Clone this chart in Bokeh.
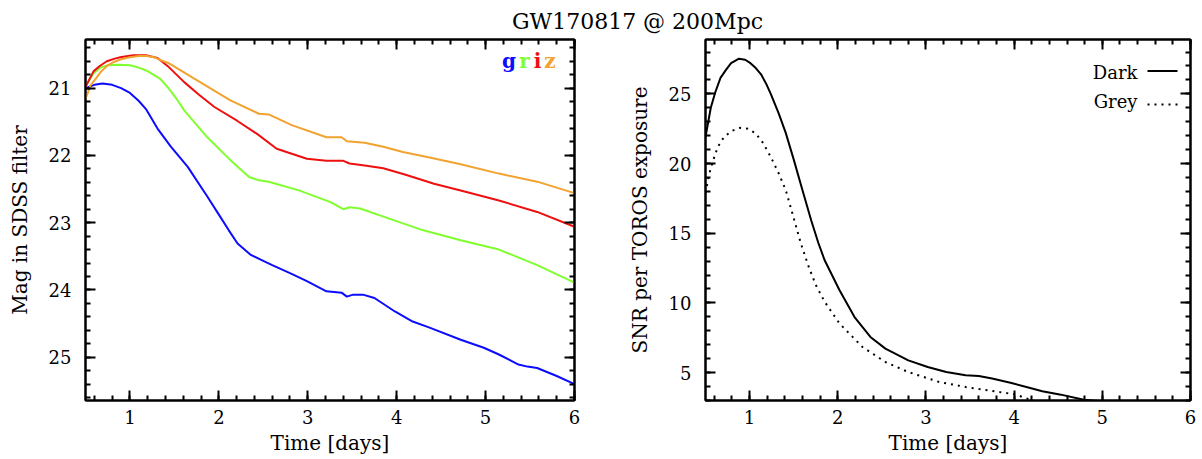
from bokeh.plotting import figure
from bokeh.models import Range1d, LinearAxis, SingleIntervalTicker, Label, Arrow
from bokeh.layouts import column, row
from bokeh.embed import file_html
from bokeh.resources import INLINE

# ---------------- data ----------------
time_g = [0.50, 0.60, 0.69, 0.80, 0.90, 1.00, 1.10, 1.18, 1.31, 1.46, 1.65, 1.87, 2.00, 2.11, 2.21, 2.36,
          2.47, 2.60, 2.80, 2.99, 3.21, 3.38, 3.44, 3.51, 3.62, 3.75, 3.98, 4.18, 4.37, 4.72, 4.98, 5.15,
          5.37, 5.47, 5.58, 5.80, 6.00]
mag_g = [21.00, 20.95, 20.93, 20.95, 21.00, 21.07, 21.19, 21.31, 21.60, 21.87, 22.17, 22.61, 22.88, 23.11,
         23.31, 23.48, 23.55, 23.63, 23.75, 23.87, 24.02, 24.04, 24.10, 24.07, 24.07, 24.12, 24.32, 24.47,
         24.56, 24.74, 24.86, 24.96, 25.11, 25.14, 25.16, 25.28, 25.40]

time_r = [0.50, 0.59, 0.67, 0.76, 0.86, 1.00, 1.09, 1.19, 1.34, 1.44, 1.52, 1.61, 1.87, 2.13, 2.34, 2.45,
          2.56, 2.90, 3.25, 3.40, 3.47, 3.59, 3.85, 4.29, 4.72, 5.15, 5.58, 6.00]
mag_r = [20.98, 20.78, 20.69, 20.66, 20.65, 20.66, 20.69, 20.74, 20.86, 21.01, 21.15, 21.33, 21.73, 22.07,
         22.32, 22.37, 22.39, 22.52, 22.69, 22.80, 22.77, 22.79, 22.91, 23.11, 23.26, 23.40, 23.63, 23.89]

time_i = [0.50, 0.59, 0.66, 0.74, 0.83, 0.89, 0.98, 1.04, 1.18, 1.31, 1.44, 1.61, 1.78, 1.95, 2.20, 2.43,
          2.65, 2.99, 3.21, 3.40, 3.47, 3.64, 3.85, 4.11, 4.42, 4.72, 5.15, 5.58, 6.00]
mag_i = [20.98, 20.75, 20.67, 20.60, 20.56, 20.54, 20.52, 20.51, 20.51, 20.55, 20.69, 20.91, 21.10, 21.28,
         21.48, 21.68, 21.90, 22.05, 22.08, 22.08, 22.12, 22.15, 22.19, 22.29, 22.42, 22.52, 22.67, 22.84,
         23.06]

time_z = [0.50, 0.556, 0.62, 0.67, 0.75, 0.82, 0.90, 1.00, 1.10, 1.19, 1.27, 1.34, 1.44, 1.70, 2.13, 2.45,
          2.56, 2.82, 3.21, 3.38, 3.44, 3.64, 3.85, 4.07, 4.37, 4.72, 5.15, 5.58, 6.00]
mag_z = [21.16, 20.96, 20.85, 20.76, 20.66, 20.61, 20.57, 20.54, 20.52, 20.52, 20.54, 20.58, 20.63, 20.84,
         21.18, 21.38, 21.39, 21.55, 21.73, 21.73, 21.79, 21.81, 21.87, 21.95, 22.03, 22.13, 22.27, 22.39,
         22.56]

time_dark = [0.50, 0.56, 0.61, 0.67, 0.73, 0.79, 0.88, 0.95, 1.01, 1.07, 1.13, 1.19, 1.24, 1.33, 1.41,
             1.50, 1.59, 1.70, 1.78, 1.85, 2.02, 2.19, 2.37, 2.54, 2.80, 3.02, 3.23, 3.45, 3.60, 3.75,
             3.97, 4.15, 4.32, 4.53, 4.79, 4.95]
snr_dark = [21.9, 24.0, 25.1, 26.15, 26.7, 27.2, 27.52, 27.45, 27.2, 26.85, 26.4, 25.7, 25.0, 23.6, 22.2,
            20.3, 18.3, 15.9, 14.3, 13.08, 10.91, 8.99, 7.56, 6.72, 5.88, 5.40, 5.04, 4.81, 4.75, 4.58,
            4.25, 3.95, 3.66, 3.42, 3.06, 2.96]

time_grey = [0.50, 0.54, 0.58, 0.64, 0.71, 0.80, 0.89, 0.98, 1.07, 1.15, 1.24, 1.33, 1.41, 1.50, 1.58,
             1.67, 1.75, 1.85, 2.02, 2.28, 2.54, 2.80, 3.15, 3.45, 3.75, 4.01, 4.23]
snr_grey = [17.9, 19.2, 20.1, 21.2, 21.9, 22.35, 22.56, 22.5, 22.16, 21.5, 20.48, 19.3, 18.09, 16.1, 14.3,
            12.6, 11.3, 10.1, 8.52, 6.84, 5.76, 5.04, 4.33, 3.97, 3.68, 3.44, 2.96]

band_names = ["g", "r", "i", "z"]
band_colors = ["#0c0cff", "#80ff2e", "#ee1010", "#f2a22e"]
snr_names = ["Dark", "Grey"]

title_text = "GW170817 @ 200Mpc"
xlabel = "Time [days]"
ylabel_left = "Mag in SDSS filter"
ylabel_right = "SNR per TOROS exposure"

X_RANGE = (0.5, 6.0)
MAG_RANGE = (25.644, 20.276)   # bottom, top (reversed)
SNR_RANGE = (3.0, 28.9)

FONT = "DejaVu Serif"

# ---------------- layout geometry (page pixels; page content starts at 0,0) ----------------
TITLE_H = 34
FIG_H = 425
FRAME_L1, FRAME_W1 = 85, 489
FRAME_L2, FRAME_W2 = 705, 485
W1 = 618
W2 = 582
BORDER_TOP = 5
FRAME_H = 361
FRAME_TOP = TITLE_H + BORDER_TOP


def style_axis(ax, ticker, labels=True):
    ax.ticker = ticker
    ax.axis_line_color = "black"
    ax.axis_line_width = 2
    ax.major_tick_in = 10
    ax.major_tick_out = 0
    ax.minor_tick_in = 5
    ax.minor_tick_out = 0
    ax.major_tick_line_width = 2
    ax.minor_tick_line_width = 2
    ax.major_tick_line_color = "black"
    ax.minor_tick_line_color = "black"
    ax.axis_label_text_font = FONT
    ax.axis_label_text_font_style = "normal"
    ax.axis_label_text_font_size = "20px"
    ax.axis_label_text_color = "black"
    ax.major_label_text_font = FONT
    if labels:
        ax.major_label_text_font_size = "18px"
        ax.major_label_text_color = "black"
    else:
        ax.major_label_text_font_size = "0px"
        ax.major_label_text_color = None
        ax.major_label_standoff = 0


def make_panel(width, frame_w, border_left, yrange, ytick_interval, ylabel):
    border_right = width - border_left - frame_w
    p = figure(width=width, height=FIG_H, x_range=Range1d(*X_RANGE), y_range=Range1d(*yrange),
               output_backend="svg", toolbar_location=None,
               min_border_left=border_left, min_border_right=border_right,
               min_border_top=BORDER_TOP, min_border_bottom=FIG_H - BORDER_TOP - FRAME_H)
    p.xgrid.grid_line_color = None
    p.ygrid.grid_line_color = None
    p.outline_line_color = "black"
    p.outline_line_width = 2
    p.background_fill_color = "white"
    p.border_fill_color = "white"
    style_axis(p.xaxis[0], SingleIntervalTicker(interval=1, num_minor_ticks=5))
    style_axis(p.yaxis[0], SingleIntervalTicker(interval=ytick_interval, num_minor_ticks=5))
    p.xaxis[0].axis_label = xlabel
    p.yaxis[0].axis_label = ylabel
    p.xaxis[0].major_label_standoff = 9
    p.xaxis[0].axis_label_standoff = 4
    p.yaxis[0].major_label_standoff = 14
    p.yaxis[0].axis_label_standoff = 14
    top = LinearAxis()
    style_axis(top, SingleIntervalTicker(interval=1, num_minor_ticks=5), labels=False)
    right = LinearAxis()
    style_axis(right, SingleIntervalTicker(interval=ytick_interval, num_minor_ticks=5), labels=False)
    p.add_layout(top, "above")
    p.add_layout(right, "right")
    return p


def to_data(px, py, frame_left, frame_w, yrange):
    """page-pixel position inside a panel -> data units (annotation placement only)"""
    x = X_RANGE[0] + (px - frame_left) / frame_w * (X_RANGE[1] - X_RANGE[0])
    y = yrange[0] + (FRAME_TOP + FRAME_H - py) / FRAME_H * (yrange[1] - yrange[0])
    return x, y


# ---------------- title strip ----------------
pt = figure(width=W1 + W2, height=TITLE_H, x_range=Range1d(0, W1 + W2), y_range=Range1d(0, TITLE_H),
            output_backend="svg", toolbar_location=None, min_border=0,
            x_axis_type=None, y_axis_type=None)
pt.xgrid.grid_line_color = None
pt.ygrid.grid_line_color = None
pt.outline_line_color = None
pt.add_layout(Label(x=637, y=TITLE_H - 21, text=title_text, text_align="center",
                    text_baseline="middle", text_font=FONT, text_font_size="22px", text_color="black"))

# ---------------- left panel: light curves ----------------
p1 = make_panel(W1, FRAME_W1, FRAME_L1, MAG_RANGE, 1, ylabel_left)
series = [(time_g, mag_g), (time_r, mag_r), (time_i, mag_i), (time_z, mag_z)]
for (t, m), c in zip(series, band_colors):
    p1.line(t, m, line_color=c, line_width=2)

letter_px = [508.5, 524, 537, 549.5]
for name, c, px in zip(band_names, band_colors, letter_px):
    x, y = to_data(px, 60, FRAME_L1, FRAME_W1, MAG_RANGE)
    p1.add_layout(Label(x=x, y=y, text=name, text_align="center", text_baseline="middle",
                        text_font=FONT, text_font_style="bold", text_font_size="20px", text_color=c))

# ---------------- right panel: SNR ----------------
p2 = make_panel(W2, FRAME_W2, FRAME_L2 - W1, SNR_RANGE, 5, ylabel_right)
p2.line(time_dark, snr_dark, line_color="black", line_width=2)
p2.line(time_grey, snr_grey, line_color="black", line_width=2, line_dash="2 5")

for name, ty, ly, dash in [(snr_names[0], 71.5, 70.5, "solid"), (snr_names[1], 101, 104, "2 5")]:
    x, y = to_data(1137, ty, FRAME_L2, FRAME_W2, SNR_RANGE)
    p2.add_layout(Label(x=x, y=y, text=name, text_align="right", text_baseline="middle",
                        text_font=FONT, text_font_size="18px", text_color="black"))
    x0, y0 = to_data(1147, ly, FRAME_L2, FRAME_W2, SNR_RANGE)
    x1, _ = to_data(1177, ly, FRAME_L2, FRAME_W2, SNR_RANGE)
    p2.add_layout(Arrow(start=None, end=None, x_start=x0, y_start=y0, x_end=x1, y_end=y0,
                        line_color="black", line_width=2, line_dash=dash))

layout = column(pt, row(p1, p2))
open("out.html", "w").write(file_html(layout, INLINE))
